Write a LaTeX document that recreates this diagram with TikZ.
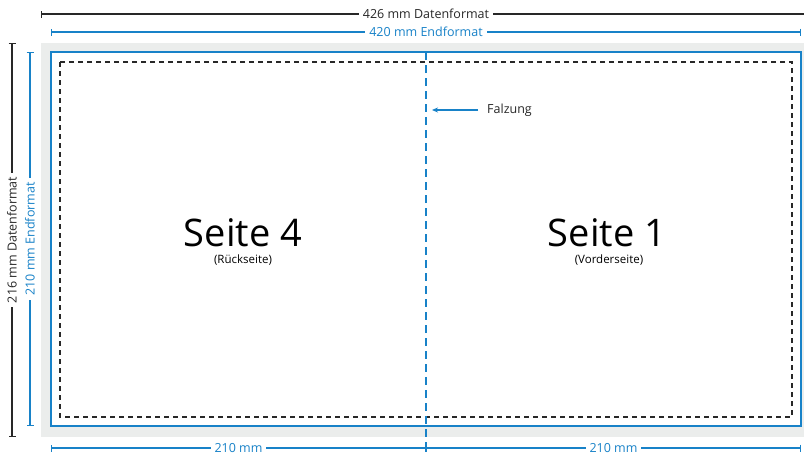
\documentclass[tikz,border=0pt]{standalone}
\usepackage{fontspec}
\setmainfont{Open Sans}
\usetikzlibrary{arrows.meta}

\begin{document}
\begin{tikzpicture}[x=1pt,y=-1pt]
  \definecolor{kBlue}{RGB}{24,130,200}
  \definecolor{kGrey}{RGB}{40,40,40}
  \definecolor{kBleed}{RGB}{235,237,236}
  \tikzset{
    dimline/.style={line width=1.2pt,{Bar[width=7pt]}-{Bar[width=7pt]}},
    dimlabel/.style={fill=white,inner xsep=4pt,inner ysep=1pt,font=\fontsize{12.5}{14}\selectfont},
    pagetitle/.style={anchor=base,inner sep=0pt,font=\fontsize{38}{40}\selectfont},
    pagesub/.style={anchor=base,inner sep=0pt,font=\fontsize{11.5}{13}\selectfont}
  }
  \useasboundingbox (0,0) rectangle (804,455);

  % bleed, trim and safe area
  \fill[kBleed] (41,43) rectangle (811,437);
  \draw[kBlue,line width=2pt,fill=white] (51,52) rectangle (801,426);
  \draw[kGrey,line width=1.1pt,dash pattern=on 5pt off 4pt] (60,62) rectangle (792,417);

  % ends of the dimension lines
  \coordinate (datW) at (41,14);   \coordinate (datE) at (811,14);
  \coordinate (endW) at (51,32);   \coordinate (endE) at (801,32);
  \coordinate (datN) at (12,43);   \coordinate (datS) at (12,437);
  \coordinate (endN) at (30,52);   \coordinate (endS) at (30,426);
  \coordinate (botW) at (51,448);  \coordinate (botM) at (426,448);
  \coordinate (botE) at (801,448);

  \draw[dimline,kGrey] (datW) -- (datE) node[midway,dimlabel,text=kGrey] (lblDatW) {426 mm Datenformat};
  \draw[dimline,kBlue] (endW) -- (endE) node[midway,dimlabel,text=kBlue] (lblEndW) {420 mm Endformat};
  \draw[dimline,kGrey] (datN) -- (datS) node[midway,dimlabel,rotate=90,text=kGrey] (lblDatH) {216 mm Datenformat};
  \draw[dimline,kBlue] (endN) -- (endS) node[midway,dimlabel,rotate=90,text=kBlue] (lblEndH) {210 mm Endformat};
  \foreach \a/\b/\n in {botW/botM/lblLeft,botM/botE/lblRight}
  {
    \draw[dimline,kBlue] (\a) -- (\b) node[midway,dimlabel,text=kBlue] (\n) {210 mm};
  }

  % fold
  \coordinate (foldN) at (426,52);
  \coordinate (foldS) at (426,455);
  \draw[kBlue,line width=1.8pt,dash pattern=on 8pt off 5pt] (foldN) -- (foldS);
  \coordinate (foldTip) at (432,110);
  \node[anchor=west,inner xsep=9pt,font=\fontsize{12.5}{14}\selectfont,text=kGrey] (falz) at (478,110) {Falzung};
  \draw[kBlue,line width=1.2pt,-{Stealth[length=6pt,width=5pt]}] (falz.west) -- (foldTip);

  % pages
  \node[pagetitle] (back) at (243,246) {Seite 4};
  \node[pagesub] (backSub) at (243,263) {(Rückseite)};
  \node[pagetitle] (front) at (607,246) {Seite 1};
  \node[pagesub] (frontSub) at (609,263) {(Vorderseite)};
\end{tikzpicture}
\end{document}
